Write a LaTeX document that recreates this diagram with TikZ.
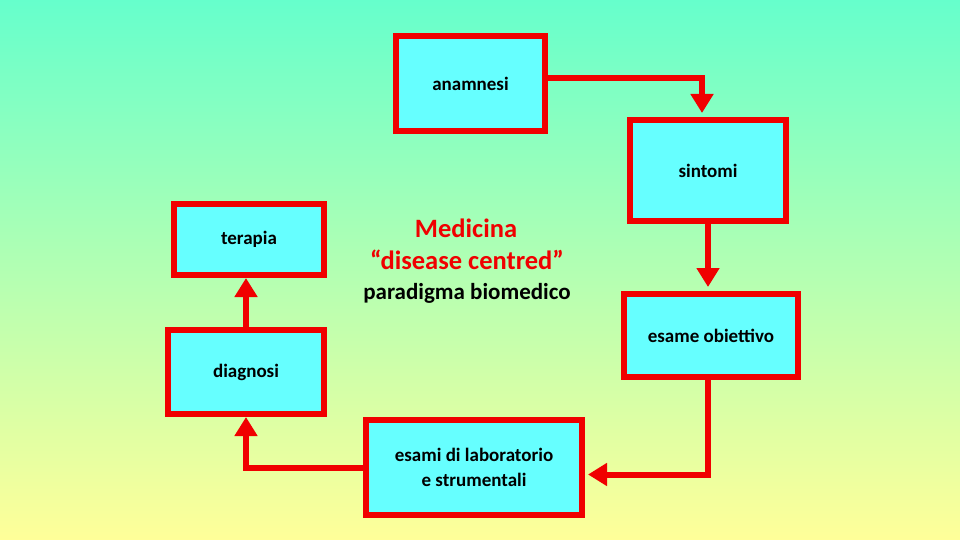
\documentclass[tikz,border=0pt]{standalone}
\usepackage{fontspec}
\setmainfont{Carlito}
\usetikzlibrary{arrows.meta,calc}
\definecolor{bgtop}{RGB}{102,255,204}
\definecolor{bgbot}{RGB}{255,255,153}
\definecolor{boxfill}{RGB}{102,255,255}
\definecolor{boxred}{RGB}{240,0,0}
\tikzset{
  stepbox/.style={draw=boxred, fill=boxfill, line width=6pt, inner sep=0pt,
    font=\fontsize{19}{25}\selectfont\bfseries, align=center},
  conn/.style={draw=boxred, line width=6pt, -{Triangle[length=19pt,width=22pt]}},
  title/.style={font=\fontsize{26.5}{30}\selectfont\bfseries, text=boxred},
  subtitle/.style={font=\fontsize{23}{27}\selectfont\bfseries, text=black}
}
\begin{document}
\begin{tikzpicture}[x=1pt,y=-1pt]
\shade[top color=bgtop, bottom color=bgbot] (0,0) rectangle (960,540);
\useasboundingbox (0,0) rectangle (960,540);

\node[stepbox, minimum width=149pt, minimum height=95pt] (anam) at (470.5,83.5) {anamnesi};
\node[stepbox, minimum width=156pt, minimum height=101pt] (sint) at (708,170.5) {sintomi};
\node[stepbox, minimum width=174pt, minimum height=83pt] (esame) at (711,335.5) {esame obiettivo};
\node[stepbox, minimum width=150pt, minimum height=71pt] (ter) at (249,239.5) {terapia};
\node[stepbox, minimum width=156pt, minimum height=84pt] (diag) at (246,372) {diagnosi};
\node[stepbox, minimum width=216pt, minimum height=95pt] (esami) at (474,467.5) {esami di laboratorio\\e strumentali};

\node[title] (med) at (466,228) {Medicina};
\node[title] (dis) at (467,260) {“disease centred”};
\node[subtitle] (para) at (467,293) {paradigma biomedico};

\draw[conn, shorten >=4pt] ([yshift=5pt]anam.east) -| ([xshift=-6pt]sint.north);
\draw[conn, shorten >=4pt] (sint.south) -- (sint.south |- esame.north);
\draw[conn, shorten >=3pt] ([xshift=-3pt]esame.south) |- ([yshift=-7pt]esami.east);
\draw[conn] (esami.west) -| (diag.south);
\draw[conn] (diag.north) -- (diag.north |- ter.south);
\end{tikzpicture}
\end{document}
